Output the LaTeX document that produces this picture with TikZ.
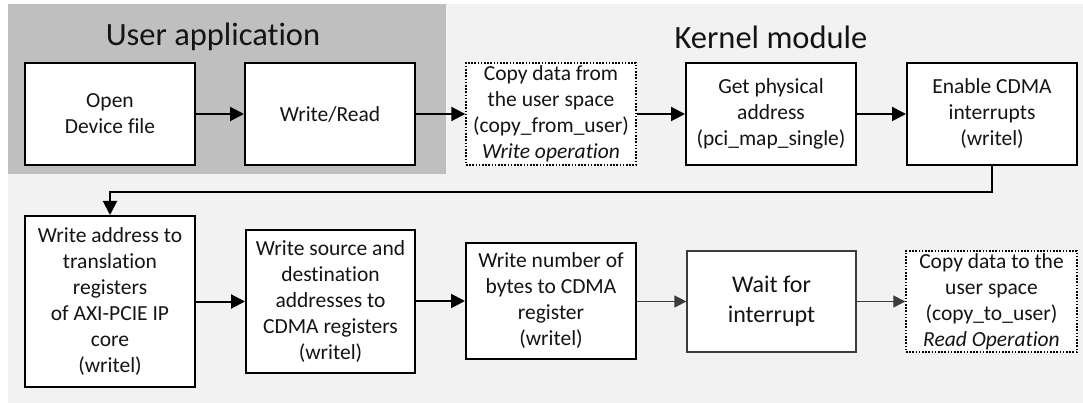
\documentclass[tikz,border=0pt]{standalone}
\usepackage{fontspec}
\setmainfont[Ligatures=NoCommon]{Carlito}
\usetikzlibrary{arrows.meta}
\definecolor{panelgray}{HTML}{F2F2F2}
\definecolor{usergray}{HTML}{BFBFBF}
\definecolor{inkgray}{HTML}{141414}
\definecolor{thingray}{HTML}{3C3C3C}
\begin{document}
\begin{tikzpicture}[x=1pt,y=-1pt,
  every node/.style={text=inkgray},
  stepbox/.style={draw=black, line width=2pt, fill=white, inner sep=0pt,
    align=center, font=\fontsize{21.5}{26}\selectfont},
  dotbox/.style={stepbox, line width=1.4pt, dash pattern=on 1.6pt off 1.6pt},
  plainbox/.style={stepbox, draw=thingray, line width=1.2pt},
  title/.style={font=\fontsize{32.5}{38}\selectfont, inner sep=0pt},
  flow/.style={line width=2pt, -{Triangle[length=14pt,width=14pt]}},
  thinflow/.style={line width=1.2pt, draw=thingray, -{Triangle[length=12pt,width=12pt]}}
]
% canvas and the two regions
\useasboundingbox (0,0) rectangle (1083,403);
\fill[white] (0,0) rectangle (1083,403);
\fill[panelgray] (8,4) rectangle (1083,403);
\fill[usergray] (8,4) rectangle (446,174);

\node[title] (usertitle) at (213,37) {User application};
\node[title] (kerneltitle) at (771,37) {Kernel module};

% first row
\node[stepbox, minimum width=170pt, minimum height=102pt] (open) at (110,114)
  {Open\\Device file};
\node[stepbox, minimum width=170pt, minimum height=102pt] (wr) at (330,114)
  {Write/Read};
\node[dotbox, minimum width=170pt, minimum height=102pt] (cfu) at (551,114)
  {Copy data from\\the user space\\(copy\_from\_user)\\\textit{Write operation}};
\node[stepbox, minimum width=170pt, minimum height=102pt] (phys) at (771,114)
  {Get physical\\address\\(pci\_map\_single)};
\node[stepbox, minimum width=170pt, minimum height=102pt] (irq) at (992,114)
  {Enable CDMA\\interrupts\\(writel)};

% second row
\node[stepbox, minimum width=170pt, minimum height=171pt] (wa) at (110,301.5)
  {Write address to\\translation\\registers\\of AXI-PCIE IP\\core\\(writel)};
\node[stepbox, minimum width=169pt, minimum height=143pt] (ws) at (330.5,301.5)
  {Write source and\\destination\\addresses to\\CDMA registers\\(writel)};
\node[stepbox, minimum width=170pt, minimum height=116pt] (wn) at (551,301)
  {Write number of\\bytes to CDMA\\register\\(writel)};
\node[plainbox, minimum width=169pt, minimum height=101pt,
  font=\fontsize{24}{30}\selectfont] (wait) at (771.5,301.5)
  {Wait for\\interrupt};
\node[dotbox, minimum width=171pt, minimum height=101pt] (ctu) at (991.5,301.5)
  {Copy data to the\\user space\\(copy\_to\_user)\\\textit{Read Operation}};

% connectors
\draw[flow] (open) -- (wr);
\draw[flow] (wr) -- (cfu);
\draw[flow] (cfu) -- (phys);
\draw[flow] (phys) -- (irq);
\coordinate (loop) at (0,192);
\draw[flow] (irq.south) |- (wa.north |- loop) -- (wa.north);
\draw[flow] (wa.east |- ws.west) -- (ws.west);
\draw[flow] (ws.east |- wn.west) -- (wn.west);
\draw[thinflow] (wn.east |- wait.west) -- (wait.west);
\draw[thinflow] (wait) -- (ctu);
\end{tikzpicture}
\end{document}
